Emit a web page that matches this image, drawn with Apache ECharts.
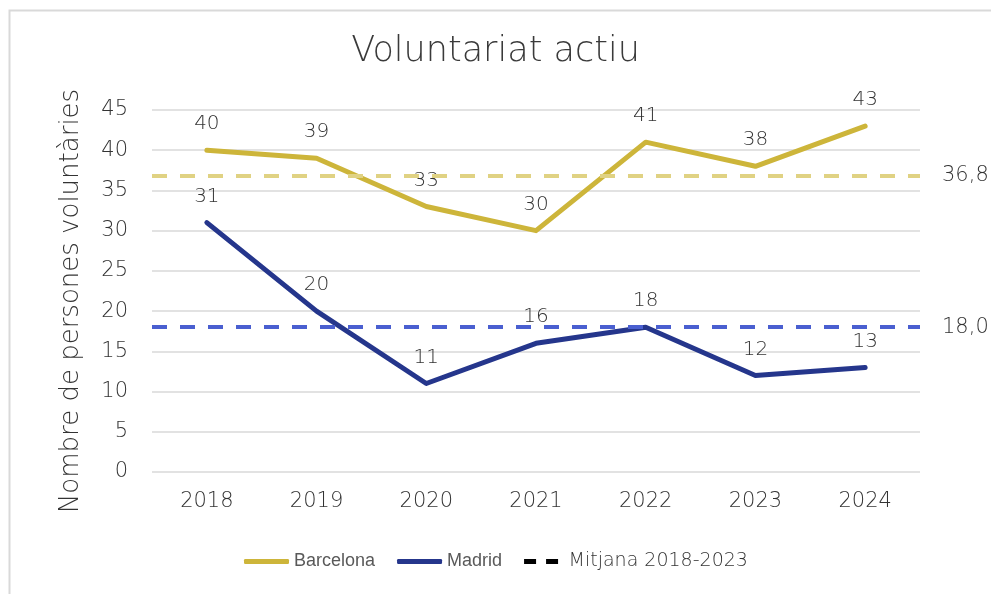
<!DOCTYPE html>
<html>
<head>
<meta charset="utf-8">
<script src="https://cdn.jsdelivr.net/npm/echarts@6/dist/echarts.min.js"></script>
<style>
  html,body{margin:0;padding:0;background:#fff;}
  #chart{width:991px;height:594px;}
</style>
</head>
<body>
<div id="chart"></div>
<script>
// data
const years = ['2018','2019','2020','2021','2022','2023','2024'];
const barcelona = [40, 39, 33, 30, 41, 38, 43];
const madrid = [31, 20, 11, 16, 18, 12, 13];
const meanBarcelona = 36.8;
const meanMadrid = 18.0;

const FONT = "'DejaVu Sans', sans-serif";
const GREY = '#333333';

const chart = echarts.init(document.getElementById('chart'));

function meanLine(value, color){
  return {
    silent: true,
    symbol: 'none',
    lineStyle: { color: color, width: 4, type: [15, 13] },
    label: {
      position: 'end',
      distance: 22,
      color: GREY,
      fontSize: 21,
      fontFamily: FONT,
      fontWeight: 200,
      formatter: v => v.value.toFixed(1).replace('.', ',')
    },
    data: [{ yAxis: value }]
  };
}

const dataLabel = { show: true, position: 'top', distance: 16, color: GREY, fontSize: 20, fontFamily: FONT, fontWeight: 200 };

const option = {
  animation: false,
  graphic: [{
    type: 'rect',
    left: 7, top: 8,
    shape: { width: 1100, height: 700 },
    style: { fill: 'none', stroke: '#d9d9d9', lineWidth: 2 }
  }],
  title: {
    text: 'Voluntariat actiu',
    left: 'center',
    top: 29,
    textStyle: { fontFamily: FONT, fontSize: 35, fontWeight: 200, color: '#3a3a3a' }
  },
  legend: {
    left: 239,
    top: 547,
    itemWidth: 45,
    itemHeight: 5,
    itemGap: 22,
    itemStyle: { borderWidth: 0 },
    formatter: name => name === 'Mitjana 2018-2023' ? '{b|' + name + '}' : '{a|' + name + '}',
    textStyle: {
      color: GREY,
      rich: {
        a: { fontFamily: "'Liberation Sans Narrow', sans-serif", fontSize: 18, color: '#595959' },
        b: { fontFamily: FONT, fontSize: 19, fontWeight: 200, color: GREY }
      }
    },
    data: [
      { name: 'Barcelona', icon: 'roundRect' },
      { name: 'Madrid', icon: 'roundRect' },
      { name: 'Mitjana 2018-2023', icon: 'path://M0,0h12v5h-12zM22,0h12v5h-12z' }
    ]
  },
  grid: { left: 152, right: 71, top: 110, bottom: 122 },
  xAxis: {
    type: 'category',
    data: years,
    axisLine: { show: false },
    axisTick: { show: false },
    axisLabel: { color: GREY, fontSize: 21, fontFamily: FONT, fontWeight: 200, margin: 19 }
  },
  yAxis: {
    type: 'value',
    min: 0, max: 45, interval: 5,
    name: 'Nombre de persones voluntàries',
    nameLocation: 'middle',
    nameGap: 68,
    nameTextStyle: { color: GREY, fontSize: 26, fontFamily: FONT, fontWeight: 200, padding: [0, 20, 0, 0] },
    axisLabel: { color: GREY, fontSize: 21, fontFamily: FONT, fontWeight: 200, margin: 24 },
    splitLine: { lineStyle: { color: '#d9d9d9', width: 1.5 } }
  },
  series: [
    {
      name: 'Barcelona',
      type: 'line',
      data: barcelona,
      symbol: 'circle',
      symbolSize: 0.1,
      showSymbol: true,
      lineStyle: { color: '#cdb53a', width: 5, cap: 'round', join: 'round' },
      itemStyle: { color: '#cdb53a' },
      label: dataLabel,
      markLine: meanLine(meanBarcelona, '#e0d283'),
      z: 3
    },
    {
      name: 'Madrid',
      type: 'line',
      data: madrid,
      symbol: 'circle',
      symbolSize: 0.1,
      showSymbol: true,
      lineStyle: { color: '#25368c', width: 5, cap: 'round', join: 'round' },
      itemStyle: { color: '#25368c' },
      label: dataLabel,
      markLine: meanLine(meanMadrid, '#4a5fd0'),
      z: 3
    },
    {
      name: 'Mitjana 2018-2023',
      type: 'line',
      data: [],
      symbol: 'none',
      lineStyle: { color: '#000', width: 4, type: [12, 9] },
      itemStyle: { color: '#000' }
    }
  ]
};

chart.setOption(option);
</script>
</body>
</html>
